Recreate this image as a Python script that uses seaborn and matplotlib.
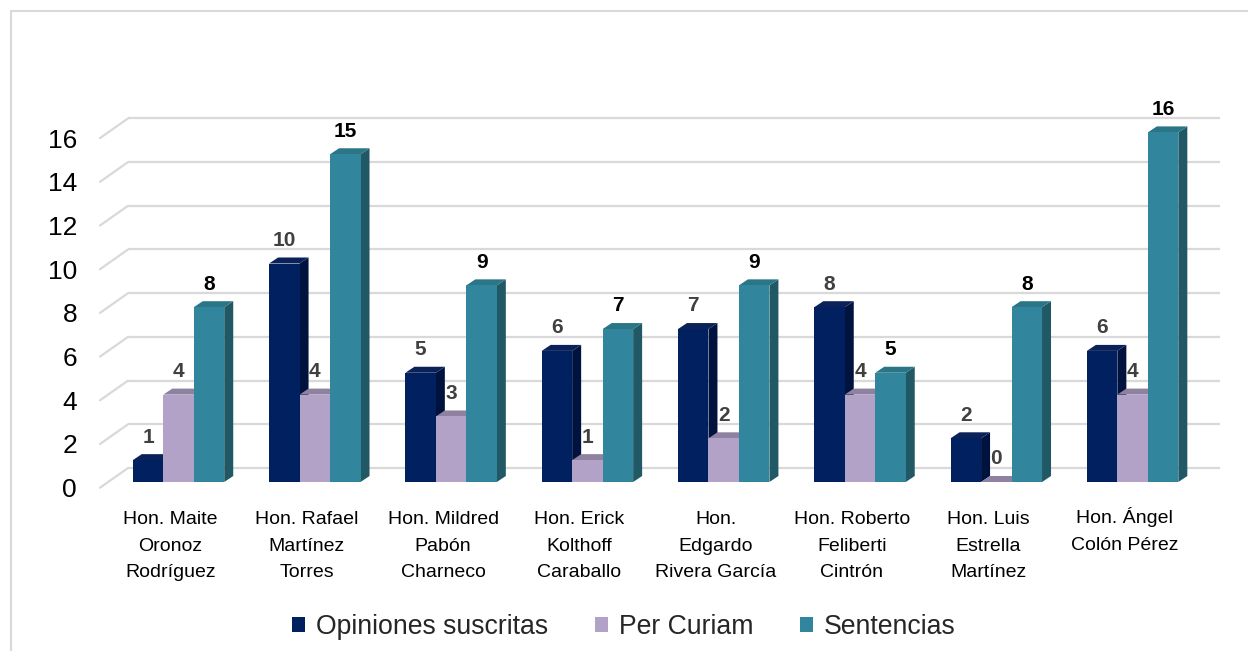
import matplotlib
matplotlib.use("Agg")
import matplotlib.pyplot as plt
from matplotlib.patches import Polygon, Patch
from matplotlib.lines import Line2D
from matplotlib.transforms import ScaledTranslation
from matplotlib import font_manager
import seaborn as sns
import pandas as pd

# ---------------- data ----------------
jueces = [
    "Hon. Maite\nOronoz\nRodríguez",
    "Hon. Rafael\nMartínez\nTorres",
    "Hon. Mildred\nPabón\nCharneco",
    "Hon. Erick\nKolthoff\nCaraballo",
    "Hon.\nEdgardo\nRivera García",
    "Hon. Roberto\nFeliberti\nCintrón",
    "Hon. Luis\nEstrella\nMartínez",
    "Hon. Ángel\nColón Pérez",
]
series = ["Opiniones suscritas", "Per Curiam", "Sentencias"]
opiniones = [1, 10, 5, 6, 7, 8, 2, 6]
per_curiam = [4, 4, 3, 1, 2, 4, 0, 4]
sentencias = [8, 15, 9, 7, 9, 5, 8, 16]
yticks = [0, 2, 4, 6, 8, 10, 12, 14, 16]

# ---------------- style ----------------
front_colors = ["#002060", "#B3A2C7", "#31859C"]
side_colors = ["#00133F", "#8A7C9E", "#205866"]
top_colors = ["#0A2258", "#8E82A0", "#2A7586"]
label_colors = ["#404040", "#404040", "#000000"]
grid_color = "#D9D9D9"

sns.set_theme(style="white")
plt.rcParams["font.family"] = ["Liberation Sans", "DejaVu Sans"]

W, H, DPI = 1248, 651, 100
fig = plt.figure(figsize=(W / DPI, H / DPI), dpi=DPI)

# axes geometry in pixels
px_left, px_right = 100, 1220
px_zero, px_per_unit = 482, 21.85
ymax = 17
px_top = px_zero - ymax * px_per_unit
ax = fig.add_axes([px_left / W, (H - px_zero) / H,
                   (px_right - px_left) / W, (px_zero - px_top) / H])

df = pd.DataFrame({
    "juez": jueces * 3,
    "serie": [s for s in series for _ in jueces],
    "valor": opiniones + per_curiam + sentencias,
})

sns.barplot(data=df, x="juez", y="valor", hue="serie", order=jueces,
            hue_order=series, palette=front_colors, width=0.671, gap=0,
            saturation=1, legend=False, ax=ax, linewidth=0, errorbar=None)

cat_px = 136.3
cat0_px = 178.5
xlim_l = (px_left - cat0_px) / cat_px
xlim_r = (px_right - cat0_px) / cat_px
ax.set_xlim(xlim_l, xlim_r)
ax.set_ylim(0, ymax)

# 3D depth for bars
dx = 9 / cat_px
dy = 6 / px_per_unit

for j, cont in enumerate(ax.containers):
    for bar in cont.patches:
        x0 = bar.get_x()
        x1 = x0 + bar.get_width()
        h = bar.get_height()
        bar.set_zorder(3 + j)
        bar.set_edgecolor("none")
        side = Polygon([(x1, 0), (x1 + dx, dy), (x1 + dx, h + dy), (x1, h)],
                       closed=True, facecolor=side_colors[j], edgecolor="none",
                       zorder=2.5 + j)
        top = Polygon([(x0, h), (x1, h), (x1 + dx, h + dy), (x0 + dx, h + dy)],
                      closed=True, facecolor=top_colors[j], edgecolor="none",
                      zorder=2.6 + j)
        ax.add_patch(side)
        ax.add_patch(top)
        ax.annotate(f"{int(h)}", (x0 + bar.get_width() / 2, h + dy),
                    xytext=(0, 5.5), textcoords="offset points",
                    ha="center", va="bottom", fontsize=15,
                    fontweight="bold",
                    color=label_colors[j], zorder=10, annotation_clip=False)

# back-wall gridlines with perspective diagonals
back_dx = 28 / cat_px
back_dy = 14 / px_per_unit
front_dy = -5.7 / px_per_unit
for v in yticks:
    ax.plot([xlim_l + back_dx, xlim_r], [v + back_dy, v + back_dy],
            color=grid_color, lw=1.6, zorder=1, clip_on=False,
            solid_capstyle="butt")
    ax.plot([xlim_l, xlim_l + back_dx], [v + front_dy, v + back_dy],
            color=grid_color, lw=1.6, zorder=1, clip_on=False)

for s in ax.spines.values():
    s.set_visible(False)
ax.grid(False)
ax.set_xlabel("")
ax.set_ylabel("")
ax.set_yticks(yticks)
ax.set_yticklabels([str(v) for v in yticks])
ax.tick_params(axis="y", length=0, pad=16.5, labelsize=19, labelcolor="#000000")
ax.tick_params(axis="x", length=0, pad=21, labelsize=14, labelcolor="#000000")
for lab in ax.get_yticklabels():
    lab.set_transform(lab.get_transform() +
                      ScaledTranslation(0, -5.7 / DPI, fig.dpi_scale_trans))
for lab in ax.get_xticklabels():
    first = lab.get_text().split("\n")[0]
    shift_y = 4 if any(ch in first for ch in "ÁÉÍÓÚ") else 0
    lab.set_transform(lab.get_transform() +
                      ScaledTranslation(-8 / DPI, shift_y / DPI,
                                        fig.dpi_scale_trans))
    lab.set_linespacing(1.72)
ax.patch.set_alpha(0)

# legend
handles = [Patch(facecolor=c, edgecolor="none", label=s)
           for c, s in zip(front_colors, series)]
fig.legend(handles=handles, loc="center", bbox_to_anchor=(0.5, 1 - 627 / H),
           ncol=3, frameon=False, fontsize=19.2, handlelength=0.5,
           handleheight=0.5, handletextpad=0.4, columnspacing=1.75)

# chart border (top and left)
fig.add_artist(Line2D([11 / W, 1], [1 - 11 / H, 1 - 11 / H],
                      transform=fig.transFigure, color=grid_color, lw=1.5))
fig.add_artist(Line2D([11 / W, 11 / W], [0, 1 - 11 / H],
                      transform=fig.transFigure, color=grid_color, lw=1.5))

fig.savefig("out.png", dpi=DPI, facecolor="white")
